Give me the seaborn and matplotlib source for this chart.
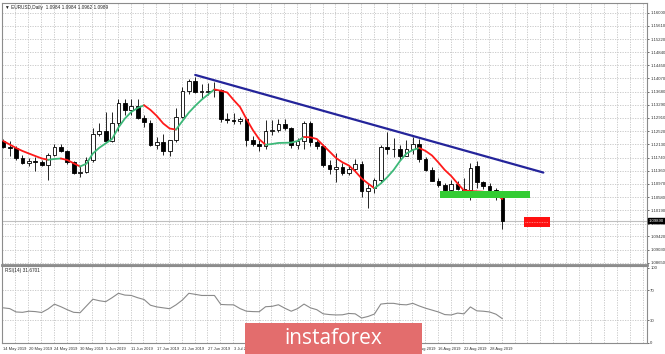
import numpy as np
import pandas as pd
import matplotlib
matplotlib.use("Agg")
import matplotlib.pyplot as plt
import matplotlib.transforms as mtransforms
from matplotlib.patches import Rectangle
import seaborn as sns

# EURUSD daily candles, 14 May 2019 .. 30 Aug 2019
opens = [1.1224, 1.1204, 1.1202, 1.1173, 1.1157, 1.1163, 1.1161, 1.1152, 1.1182, 1.1205,
         1.1193, 1.1160, 1.1130, 1.1131, 1.1168, 1.1243, 1.1253, 1.1222, 1.1276, 1.1334,
         1.1313, 1.1327, 1.1290, 1.1275, 1.1211, 1.1219, 1.1193, 1.1225, 1.1293, 1.1370,
         1.1400, 1.1368, 1.1368, 1.1372, 1.1372, 1.1286, 1.1285, 1.1283, 1.1287, 1.1226,
         1.1214, 1.1207, 1.1252, 1.1255, 1.1272, 1.1261, 1.1212, 1.1223, 1.1275, 1.1219,
         1.1208, 1.1152, 1.1140, 1.1145, 1.1128, 1.1140, 1.1155, 1.1077, 1.1085, 1.1108,
         1.1205, 1.1200, 1.1198, 1.1180, 1.1200, 1.1215, 1.1170, 1.1138, 1.1106, 1.1092,
         1.1080, 1.1097, 1.1082, 1.1080, 1.1148, 1.1101, 1.1091, 1.1079, 1.1056]
highs = [1.1228, 1.1224, 1.1208, 1.1182, 1.1172, 1.1175, 1.1168, 1.1187, 1.1215, 1.1214,
         1.1197, 1.1165, 1.1150, 1.1175, 1.1262, 1.1276, 1.1307, 1.1309, 1.1347, 1.1345,
         1.1346, 1.1347, 1.1298, 1.1285, 1.1235, 1.1242, 1.1227, 1.1319, 1.1382, 1.1404,
         1.1412, 1.1391, 1.1394, 1.1397, 1.1375, 1.1305, 1.1306, 1.1292, 1.1293, 1.1236,
         1.1225, 1.1285, 1.1285, 1.1286, 1.1286, 1.1265, 1.1233, 1.1283, 1.1282, 1.1226,
         1.1213, 1.1168, 1.1187, 1.1159, 1.1152, 1.1170, 1.1163, 1.1100, 1.1115, 1.1211,
         1.1250, 1.1233, 1.1211, 1.1225, 1.1234, 1.1230, 1.1176, 1.1146, 1.1114, 1.1100,
         1.1107, 1.1106, 1.1114, 1.1157, 1.1165, 1.1106, 1.1100, 1.1084, 1.1060]
lows = [1.1202, 1.1178, 1.1168, 1.1156, 1.1149, 1.1136, 1.1150, 1.1107, 1.1178, 1.1189,
        1.1155, 1.1127, 1.1116, 1.1128, 1.1162, 1.1237, 1.1220, 1.1220, 1.1251, 1.1298,
        1.1300, 1.1286, 1.1264, 1.1208, 1.1200, 1.1181, 1.1180, 1.1220, 1.1290, 1.1361,
        1.1363, 1.1348, 1.1357, 1.1353, 1.1279, 1.1275, 1.1272, 1.1272, 1.1207, 1.1207,
        1.1193, 1.1200, 1.1240, 1.1250, 1.1254, 1.1203, 1.1200, 1.1200, 1.1208, 1.1200,
        1.1146, 1.1127, 1.1101, 1.1124, 1.1124, 1.1132, 1.1058, 1.1027, 1.1070, 1.1100,
        1.1185, 1.1175, 1.1166, 1.1178, 1.1185, 1.1162, 1.1135, 1.1104, 1.1088, 1.1076,
        1.1066, 1.1078, 1.1065, 1.1049, 1.1086, 1.1083, 1.1070, 1.1050, 1.0963]
closes = [1.1204, 1.1202, 1.1173, 1.1157, 1.1163, 1.1161, 1.1152, 1.1182, 1.1205, 1.1193,
          1.1160, 1.1130, 1.1131, 1.1168, 1.1243, 1.1253, 1.1222, 1.1276, 1.1334, 1.1313,
          1.1327, 1.1290, 1.1280, 1.1211, 1.1219, 1.1193, 1.1225, 1.1293, 1.1370, 1.1400,
          1.1368, 1.1368, 1.1370, 1.1377, 1.1286, 1.1285, 1.1283, 1.1287, 1.1226, 1.1214,
          1.1207, 1.1252, 1.1255, 1.1272, 1.1261, 1.1212, 1.1223, 1.1275, 1.1219, 1.1208,
          1.1152, 1.1140, 1.1145, 1.1128, 1.1140, 1.1155, 1.1077, 1.1085, 1.1108, 1.1205,
          1.1200, 1.1198, 1.1180, 1.1200, 1.1215, 1.1170, 1.1138, 1.1106, 1.1092, 1.1080,
          1.1097, 1.1082, 1.1080, 1.1143, 1.1101, 1.1091, 1.1079, 1.1058, 1.0989]

# smoothed moving average
ma_values = [1.12228, 1.12125, 1.12022, 1.11934, 1.11860, 1.11787, 1.11716, 1.11675, 1.11699, 1.11713,
             1.11669, 1.11572, 1.11478, 1.11561, 1.11860, 1.12028, 1.12157, 1.12287, 1.12625, 1.12887,
             1.13081, 1.13198, 1.13280, 1.13142, 1.12963, 1.12742, 1.12595, 1.12563, 1.12816, 1.13063,
             1.13263, 1.13442, 1.13595, 1.13745, 1.13704, 1.13654, 1.13433, 1.13228, 1.12875, 1.12551,
             1.12278, 1.12116, 1.12140, 1.12170, 1.12175, 1.12180, 1.12228, 1.12346, 1.12337, 1.12287,
             1.12099, 1.11916, 1.11728, 1.11602, 1.11508, 1.11337, 1.11125, 1.10978, 1.10837, 1.10978,
             1.11161, 1.11375, 1.11640, 1.11860, 1.11963, 1.12022, 1.11934, 1.11802, 1.11596, 1.11375,
             1.11199, 1.10978, 1.10773, 1.10758, 1.10746, 1.10737, 1.10708, 1.10655, 1.10523]

rsi_values = [46.5, 45.5, 41.0, 40.5, 42.0, 41.5, 40.3, 45.0, 51.4, 48.0,
              44.0, 40.5, 40.0, 49.0, 58.0, 56.0, 54.7, 60.0, 65.9, 63.5,
              63.0, 60.0, 57.6, 50.0, 47.7, 46.5, 45.3, 50.5, 57.0, 65.9,
              64.5, 63.0, 63.0, 63.0, 51.0, 50.6, 50.5, 45.5, 42.0, 41.5,
              41.3, 48.0, 48.5, 50.6, 46.0, 42.0, 45.5, 51.5, 46.5, 44.0,
              38.5, 37.5, 37.0, 37.2, 39.0, 38.5, 32.9, 35.0, 38.2, 51.5,
              52.5, 52.5, 51.0, 50.5, 52.5, 49.0, 46.0, 43.5, 41.0, 37.5,
              37.0, 39.5, 38.5, 47.7, 42.5, 42.0, 41.0, 38.0, 32.0]

date_labels = ["14 May 2019", "20 May 2019", "24 May 2019", "30 May 2019", "5 Jun 2019",
               "11 Jun 2019", "17 Jun 2019", "21 Jun 2019", "27 Jun 2019", "3 Jul 2019",
               "9 Jul 2019", "15 Jul 2019", "19 Jul 2019", "25 Jul 2019", "31 Jul 2019",
               "6 Aug 2019", "12 Aug 2019", "16 Aug 2019", "22 Aug 2019", "28 Aug 2019"]
price_ticks = [1.16000, 1.15610, 1.15220, 1.14840, 1.14450, 1.14070, 1.13680, 1.13290,
               1.12910, 1.12520, 1.12130, 1.11740, 1.11360, 1.10970, 1.10580, 1.10190,
               1.09800, 1.09420, 1.09030, 1.08650]
rsi_ticks = [0, 30, 70, 100]

# trendline (bar, price) and zones (bar0, bar1, price0, price1)
trend_bars = [30, 84.4]
trend_prices = [1.1417, 1.1130]
green_zone = [68.3, 82.3, 1.10545, 1.10757]
red_zone = [81.4, 85.4, 1.09690, 1.10002]
last_price = 1.0989

df = pd.DataFrame({"open": opens, "high": highs, "low": lows, "close": closes})
df["bar"] = np.arange(len(df))
df["ma"] = ma_values
df["rsi"] = rsi_values

sns.set_style("white")
plt.rcParams["font.family"] = ["Liberation Sans", "DejaVu Sans"]
TICK_FS = 3.1

W, H = 665, 354
fig = plt.figure(figsize=(W / 100, H / 100), dpi=100)
ax = fig.add_axes([2 / W, 1 - 265 / H, 645 / W, 262 / H])
ax_rsi = fig.add_axes([2 / W, 1 - 343 / H, 645 / W, 77 / H], sharex=ax)

grid_kw = dict(color="#c4c4c4", lw=0.6, ls=(0, (1.5, 1.5)), zorder=0)
xgrid = np.arange(1.9, 101, 2)
for a in (ax, ax_rsi):
    for xg in xgrid:
        a.axvline(xg, **grid_kw)
for p in price_ticks:
    ax.axhline(p, **grid_kw)
for r in (30, 70):
    ax_rsi.axhline(r, **grid_kw)

# current price line
ax.axhline(last_price, color="#c0c0c0", lw=0.8, zorder=1)

# candles
up = df["close"] >= df["open"]
ax.vlines(df["bar"], df["low"], df["high"], color="black", lw=0.6, zorder=2)
body = (df["close"] - df["open"]).abs().clip(lower=0.00005)
ax.bar(df["bar"], body, bottom=df[["open", "close"]].min(axis=1), width=0.58,
       color=np.where(up, "white", "black"), edgecolor="black", lw=0.6, zorder=3)

# moving average, green when rising, red when falling
rising = np.diff(df["ma"].values) > 0
start = 0
for i in range(1, len(rising) + 1):
    if i == len(rising) or rising[i] != rising[start]:
        seg = df.iloc[start:i + 1]
        sns.lineplot(x=seg["bar"], y=seg["ma"], ax=ax, color="#3cb878" if rising[start] else "#ff1a1a",
                     lw=1.3, zorder=4)
        start = i

# trendline and zones
sns.lineplot(x=trend_bars, y=trend_prices, ax=ax, color="#24249a", lw=1.6, zorder=5)
ax.add_patch(Rectangle((green_zone[0], green_zone[2]), green_zone[1] - green_zone[0],
                       green_zone[3] - green_zone[2], color="#33cc33", lw=0, zorder=4.5))
ax.add_patch(Rectangle((red_zone[0], red_zone[2]), red_zone[1] - red_zone[0],
                       red_zone[3] - red_zone[2], color="#ff1111", lw=0, zorder=4.5))
ax.hlines((red_zone[2] + red_zone[3]) / 2, red_zone[0] + 0.2, red_zone[1] - 0.2,
          color="#ff9a9a", lw=0.6, ls=(0, (1, 1)), zorder=4.6)

# RSI
sns.lineplot(data=df, x="bar", y="rsi", ax=ax_rsi, color="#8a8a8a", lw=0.8, zorder=3)

ax.set_xlim(-0.2, 100.6)
ax.set_ylim(1.08582, 1.16285)
ax_rsi.set_ylim(-0.4, 102.3)

for a in (ax, ax_rsi):
    a.set_xlabel("")
    a.set_ylabel("")
    a.yaxis.tick_right()
    a.tick_params(axis="y", length=1.5, width=0.5, pad=0.8, labelsize=TICK_FS, colors="#333333")
    for s in a.spines.values():
        s.set_color("#8c8c8c")
        s.set_linewidth(0.8)

ax.set_yticks(price_ticks)
ax.set_yticklabels([f"{p:.5f}" for p in price_ticks])
ax.spines["bottom"].set_linewidth(2.0)
ax.tick_params(axis="x", length=0, labelbottom=False)

# watermark box in pixels (x0, x1, height)
wm_x0, wm_x1, wm_h = 245, 422, 31

ax_rsi.set_yticks(rsi_ticks)
ax_rsi.set_yticklabels([str(r) for r in rsi_ticks])
date_bars = np.arange(0, 4 * len(date_labels), 4)
ax_rsi.set_xticks(date_bars)
# labels lying wholly under the watermark are not visible in the reference
px = 2 + (date_bars + 0.2) * 645 / 100.8
shown = [lab if (p < wm_x0 or p + 14 > wm_x1) else "" for lab, p in zip(date_labels, px)]
ax_rsi.set_xticklabels(shown, ha="left")
ax_rsi.tick_params(axis="x", length=1.5, width=0.5, pad=1.2, labelsize=2.9, colors="#333333")

# price label on the right axis
trans = mtransforms.blended_transform_factory(ax.transAxes, ax.transData)
ax.text(1.003, last_price, f"{last_price:.5f}", transform=trans, fontsize=TICK_FS, color="white",
        va="center", ha="left", zorder=10, clip_on=False,
        bbox=dict(boxstyle="square,pad=0.12", fc="black", ec="black"))

ax.text(0.004, 0.992, "\u25bc EURUSD,Daily  1.0984 1.0984 1.0962 1.0989", transform=ax.transAxes,
        fontsize=3.4, va="top", ha="left", color="#222222")
ax_rsi.text(0.004, 0.97, "RSI(14) 31.6701", transform=ax_rsi.transAxes,
            fontsize=3.4, va="top", ha="left", color="#222222")

# watermark
fig.add_artist(Rectangle((wm_x0 / W, 0), (wm_x1 - wm_x0) / W, wm_h / H, transform=fig.transFigure,
                         color="#e36d6d", lw=0, zorder=20))
fig.text((wm_x0 + wm_x1) / 2 / W, 1 - 339 / H, "instaforex", color="white", fontsize=15,
         family=["Open Sans", "DejaVu Sans"], ha="center", va="center", zorder=21)

fig.savefig("out.png", dpi=100)
